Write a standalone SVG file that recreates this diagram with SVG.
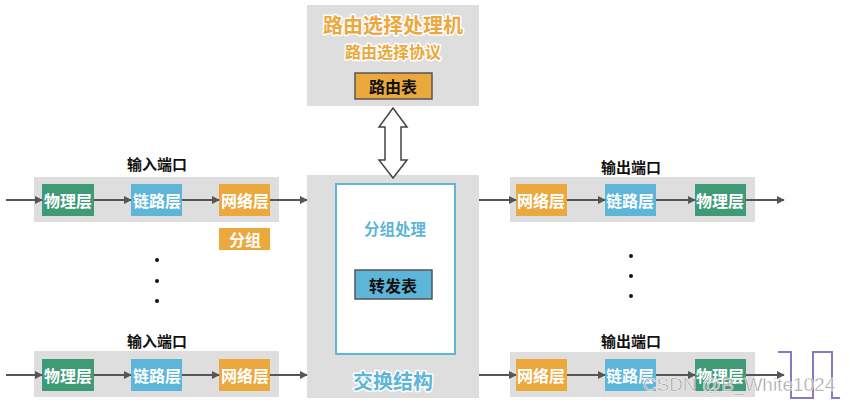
<svg xmlns="http://www.w3.org/2000/svg" width="850" height="403" viewBox="0 0 850 403">
<defs>
<style>
text{font-family:"Noto Sans CJK SC","Noto Sans",sans-serif;font-weight:bold;text-anchor:middle;dominant-baseline:central}
.panel{fill:#dedede}
.g{fill:#3f9a78}
.b{fill:#5db5d8}
.o{fill:#eba83c}
.bt{fill:#fff;font-size:16px}
.lbl{fill:#111;font-size:15px}
.conn{stroke:#555;stroke-width:2;fill:none;marker-end:url(#ah)}
.outl{stroke:#fff;stroke-width:3;paint-order:stroke;stroke-linejoin:round}
</style>
<marker id="ah" viewBox="0 0 10 10" refX="9" refY="5" markerWidth="4" markerHeight="4" orient="auto"><path d="M0,0L10,5L0,10z" fill="#555"/></marker>
</defs>
<rect width="850" height="403" fill="#fff"/>

<g id="router">
<rect class="panel" x="307" y="5" width="172" height="101"/>
<text class="outl" x="393" y="24" font-size="20" fill="#eba83c">路由选择处理机</text>
<text class="outl" x="393" y="51" font-size="16" fill="#eba83c">路由选择协议</text>
<rect x="355" y="73" width="77" height="26" fill="#eba83c" stroke="#555" stroke-width="1.5"/>
<text x="393" y="86" font-size="16" fill="#111">路由表</text>
</g>

<g id="switch">
<rect class="panel" x="307" y="175" width="172" height="223"/>
<rect x="336" y="184" width="119" height="170" fill="#fff" stroke="#5db5d8" stroke-width="2"/>
<text class="outl" x="395" y="228" font-size="15.5" fill="#5db5d8">分组处理</text>
<rect x="355" y="270" width="77" height="29" fill="#5db5d8" stroke="#555" stroke-width="1.5"/>
<text x="393" y="285" font-size="16" fill="#111">转发表</text>
<text class="outl" x="393" y="380" font-size="20" fill="#5db5d8">交换结构</text>
</g>

<g id="in1">
<text class="lbl" x="157" y="163">输入端口</text>
<rect class="panel" x="34" y="177" width="245" height="45"/>
<rect class="g" x="42" y="184" width="52" height="32"/><text class="bt" x="68" y="200">物理层</text>
<rect class="b" x="131" y="184" width="51" height="32"/><text class="bt" x="157" y="200">链路层</text>
<rect class="o" x="219" y="184" width="51" height="32"/><text class="bt" x="245" y="200">网络层</text>
<rect class="o" x="219" y="228" width="51" height="22"/><text class="bt" x="245" y="239">分组</text>
</g>

<g id="in2">
<text class="lbl" x="157" y="340">输入端口</text>
<rect class="panel" x="34" y="351" width="245" height="46"/>
<rect class="g" x="42" y="359" width="52" height="32"/><text class="bt" x="68" y="375">物理层</text>
<rect class="b" x="131" y="359" width="51" height="32"/><text class="bt" x="157" y="375">链路层</text>
<rect class="o" x="219" y="359" width="51" height="32"/><text class="bt" x="245" y="375">网络层</text>
</g>

<g id="out1">
<text class="lbl" x="631" y="166">输出端口</text>
<rect class="panel" x="510" y="177" width="245" height="45"/>
<rect class="o" x="516" y="184" width="51" height="32"/><text class="bt" x="541" y="200">网络层</text>
<rect class="b" x="605" y="184" width="51" height="32"/><text class="bt" x="630" y="200">链路层</text>
<rect class="g" x="695" y="184" width="51" height="32"/><text class="bt" x="720" y="200">物理层</text>
</g>

<g id="out2">
<text class="lbl" x="631" y="340">输出端口</text>
<rect class="panel" x="510" y="352" width="245" height="45"/>
<rect class="o" x="516" y="359" width="51" height="32"/><text class="bt" x="541" y="375">网络层</text>
<rect class="b" x="605" y="359" width="51" height="32"/><text class="bt" x="630" y="375">链路层</text>
<rect class="g" x="695" y="359" width="51" height="32"/><text class="bt" x="720" y="375">物理层</text>
</g>

<g id="dots" fill="#111">
<circle cx="157" cy="260" r="2"/><circle cx="157" cy="281" r="2"/><circle cx="157" cy="301" r="2"/>
<circle cx="631" cy="256" r="2"/><circle cx="631" cy="276" r="2"/><circle cx="631" cy="296" r="2"/>
</g>

<g id="connectors">
<path class="conn" d="M6,200H42"/><path class="conn" d="M94,200H131"/><path class="conn" d="M182,200H219"/><path class="conn" d="M270,200H307"/>
<path class="conn" d="M6,375H42"/><path class="conn" d="M94,375H131"/><path class="conn" d="M182,375H219"/><path class="conn" d="M270,375H307"/>
<path class="conn" d="M479,200H516"/><path class="conn" d="M567,200H605"/><path class="conn" d="M656,200H695"/><path class="conn" d="M746,200H784"/>
<path class="conn" d="M479,375H516"/><path class="conn" d="M567,375H605"/><path class="conn" d="M656,375H695"/><path class="conn" d="M746,375H784"/>
<path d="M393,108L407,127H401V160H407L393,178L379,160H385V127H379Z" fill="#fff" stroke="#444" stroke-width="1.5" stroke-linejoin="miter"/>
</g>

<path d="M778,352H791V398H813V352H832V398H840" fill="none" stroke="#8a78c0" stroke-width="2"/>
<text x="739" y="384" font-size="19" fill="#999" stroke="#fff" stroke-width="0.5" style="font-family:'Liberation Sans',sans-serif;font-weight:normal">CSDN @B_White1024</text>
</svg>
